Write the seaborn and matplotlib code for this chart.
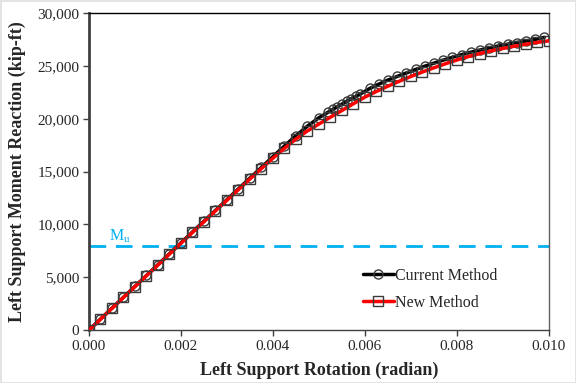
import numpy as np
import pandas as pd
import matplotlib
matplotlib.use("Agg")
import matplotlib.pyplot as plt
import seaborn as sns
from matplotlib.ticker import FuncFormatter

# ---- data ----
current_rot = [0.0, 0.00025, 0.0005, 0.00075, 0.001, 0.00125, 0.0015, 0.00175, 0.002,
               0.00225, 0.0025, 0.00275, 0.003, 0.00325, 0.0035, 0.00375, 0.004, 0.00425,
               0.0045, 0.00475, 0.005, 0.0052, 0.0053, 0.0054, 0.0055, 0.0056, 0.0057,
               0.0058, 0.0059, 0.0061, 0.0063, 0.0065, 0.0067, 0.0069, 0.0071, 0.0073,
               0.0075, 0.0077, 0.0079, 0.0081, 0.0083, 0.0085, 0.0087, 0.0089, 0.0091,
               0.0093, 0.0095, 0.0097, 0.0099]
current_moment = [0, 1050, 2080, 3110, 4140, 5170, 6200, 7230, 8260,
                  9290, 10310, 11330, 12350, 13370, 14390, 15400, 16420, 17420,
                  18400, 19300, 20100, 20620, 20880, 21140, 21390, 21640, 21880,
                  22110, 22340, 22860, 23270, 23660, 24000, 24330, 24660, 24970,
                  25260, 25540, 25810, 26060, 26290, 26500, 26700, 26880, 27050,
                  27210, 27360, 27500, 27700]

new_rot = [0.0, 0.00025, 0.0005, 0.00075, 0.001, 0.00125, 0.0015, 0.00175, 0.002,
           0.00225, 0.0025, 0.00275, 0.003, 0.00325, 0.0035, 0.00375, 0.004, 0.00425,
           0.0045, 0.00475, 0.005, 0.00525, 0.0055, 0.00575, 0.006, 0.00625, 0.0065,
           0.00675, 0.007, 0.00725, 0.0075, 0.00775, 0.008, 0.00825, 0.0085, 0.00875,
           0.009, 0.00925, 0.0095, 0.00975, 0.01]
new_moment = [0, 1030, 2060, 3090, 4120, 5150, 6170, 7200, 8220,
              9240, 10260, 11280, 12290, 13300, 14300, 15290, 16270, 17200,
              18080, 18850, 19500, 20150, 20780, 21420, 22050, 22580, 23080,
              23550, 24000, 24420, 24820, 25200, 25560, 25880, 26170, 26420,
              26650, 26860, 27050, 27220, 27370]

mu_value = 8000
series_names = ["Current Method", "New Method"]

df = pd.concat([
    pd.DataFrame({"rot": current_rot, "moment": current_moment, "method": series_names[0]}),
    pd.DataFrame({"rot": new_rot, "moment": new_moment, "method": series_names[1]}),
], ignore_index=True)

sns.set_style("white")
plt.rcParams["font.family"] = ["Liberation Serif", "DejaVu Serif"]

fig = plt.figure(figsize=(5.76, 3.83), dpi=100)
ax = fig.add_axes([0.1545, 0.138, 0.7985, 0.828])

ax.axhline(mu_value, color="#00b0f0", lw=2, dashes=(6, 3.5), zorder=1)

sns.lineplot(data=df, x="rot", y="moment", hue="method", style="method",
             palette={series_names[0]: "black", series_names[1]: "#ff0000"},
             markers={series_names[0]: "o", series_names[1]: "s"},
             dashes=False, lw=2.5, ms=6.5, mfc="none", mec="#3a3a3a", mew=1.0,
             sort=False, ax=ax, zorder=3)

ax.text(0.00043, 8500, r"M$_\mathregular{u}$", color="#00b0f0", fontsize=11.5)

ax.set_xlim(0, 0.010)
ax.set_ylim(0, 30000)
ax.set_xticks(np.arange(0, 0.0101, 0.002))
ax.set_yticks(np.arange(0, 30001, 5000))
ax.xaxis.set_major_formatter(FuncFormatter(lambda v, p: f"{v:.3f}"))
ax.yaxis.set_major_formatter(FuncFormatter(lambda v, p: f"{int(round(v)):,}"))
ax.tick_params(axis="both", direction="out", length=4, width=1, color="#404040",
               labelsize=11, bottom=True, left=True, pad=3)

ax.set_xlabel("Left Support Rotation (radian)", fontsize=13, fontweight="bold", labelpad=6)
ax.set_ylabel("Left Support Moment Reaction (kip-ft)", fontsize=13, fontweight="bold", labelpad=8)

ax.spines["left"].set_linewidth(2)
ax.spines["left"].set_color("#404040")
ax.spines["bottom"].set_linewidth(1)
ax.spines["bottom"].set_color("#404040")
ax.spines["right"].set_linewidth(1)
ax.spines["right"].set_color("#606060")
ax.spines["top"].set_linewidth(1)
ax.spines["top"].set_color("black")

leg = ax.legend(loc="lower left", bbox_to_anchor=(0.565, 0.015), frameon=False,
                fontsize=11.5, handlelength=1.9, handletextpad=0.1, labelspacing=0.7)

fig.patch.set_edgecolor("#e4e4e4")
fig.patch.set_linewidth(2)

fig.savefig("out.png", dpi=100, edgecolor=fig.get_edgecolor())
